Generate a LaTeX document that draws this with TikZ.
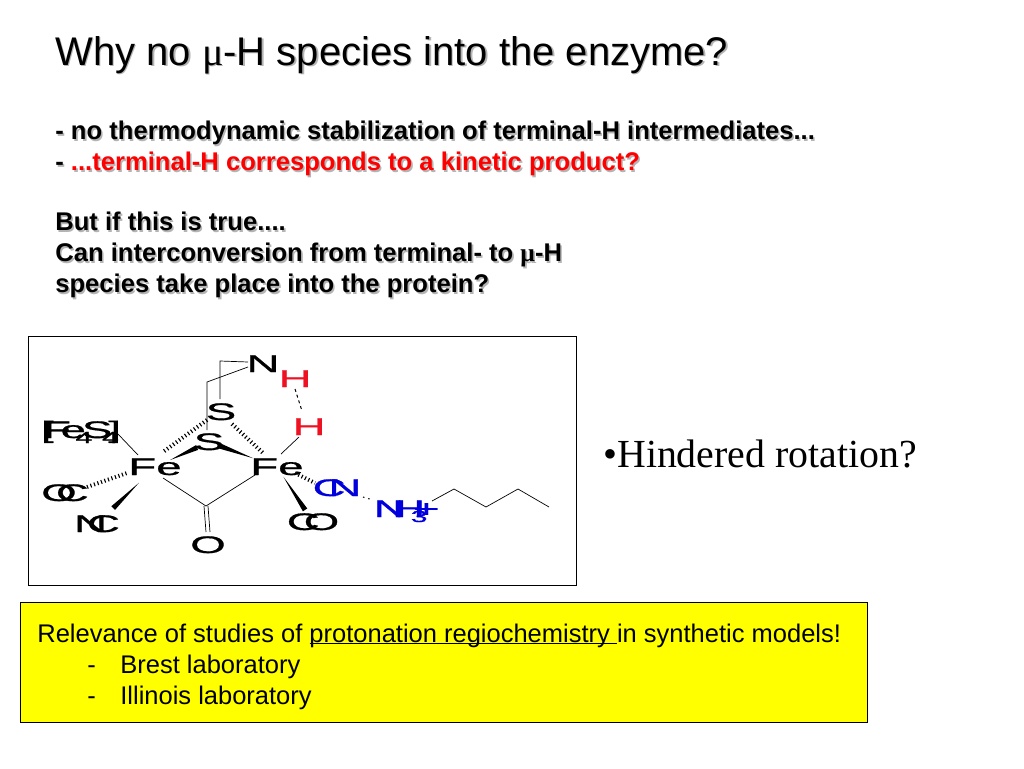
\documentclass[tikz,border=0pt]{standalone}
\usepackage{fontspec}
\setmainfont{Liberation Sans}
\newfontfamily\serifface{Liberation Serif}
\newfontfamily\atomface[FakeBold=0.7]{Liberation Sans}
\usetikzlibrary{calc}
\definecolor{shadowgray}{HTML}{B4B4B4}
\definecolor{atomred}{HTML}{EE1122}
\definecolor{atomblue}{HTML}{0000DD}
\definecolor{notebox}{HTML}{FFFF00}
\tikzset{baseline=(current bounding box.center)}
\tikzstyle{titleline} = [anchor=base west, inner sep=0, font=\fontsize{40}{40}\selectfont]
\tikzstyle{boldline} = [anchor=base west, inner sep=0, font=\fontsize{25.6}{25.6}\selectfont\bfseries]
\tikzstyle{noteline} = [anchor=base west, inner sep=0, font=\fontsize{25.5}{25.5}\selectfont]
\tikzstyle{atom} = [inner sep=0, xscale=1.9, text height=16pt, text depth=0pt, font=\atomface\fontsize{24}{24}\selectfont]
\tikzstyle{hydrogen} = [atom, color=atomred]
\tikzstyle{aminoatom} = [atom, color=atomblue]
\tikzstyle{hash} = [line width=4pt, dash pattern=on 1.1pt off 2.6pt]
% text with a soft grey copy behind it
\newcommand{\shadowed}[1]{\leavevmode\rlap{\kern1.6pt\raisebox{-1.6pt}{\color{shadowgray}#1}}#1}
\newcommand{\mug}{{\serifface μ}}
\newcommand{\subnum}[1]{\raisebox{-5pt}{\fontsize{16}{16}\selectfont #1}}
\newcommand{\wedgebond}[4]{\fill ($(#1)!#3!(#2)$) -- ($(#1)!#4!(#2)!2.6pt!90:(#2)$) -- ($(#1)!#4!(#2)!2.6pt!-90:(#2)$) -- cycle;}
\begin{document}
\begin{tikzpicture}[x=1pt, y=-1pt, line width=0.7pt]
\useasboundingbox (0,0) rectangle (1024,768);
\node[titleline] (title) at (55,65) {\shadowed{Why no \mug-H species into the enzyme?}};
\node[boldline] (line_a) at (55,139.5) {\shadowed{- no thermodynamic stabilization of terminal-H intermediates...}};
\node[boldline] (line_b) at (55,170.5) {\shadowed{- }\color{red}\shadowed{...terminal-H corresponds to a kinetic product?}};
\node[boldline] (line_c) at (55,230.5) {\shadowed{But if this is true....}};
\node[boldline] (line_d) at (55,261.5) {\shadowed{Can interconversion from terminal- to \mug-H}};
\node[boldline] (line_e) at (55,292.5) {\shadowed{species take place into the protein?}};

\node[draw, minimum width=548, minimum height=249, anchor=north west, inner sep=0] (frame) at (28,336) {};

\node[atom] (n_top) at (263,364) {N};
\node[hydrogen] (h_top) at (295,379) {H};
\node[hydrogen] (h_low) at (309,427) {H};
\node[atom] (s_top) at (221,412) {S};
\node[atom] (s_low) at (209,442) {S};
\node[atom] (fe_left) at (155,467) {Fe};
\node[atom] (fe_right) at (277,467) {Fe};
\node[atom] (cluster) at (81,430) {[\kern-5.5ptF\kern-5.5pte\kern-5.5pt\subnum{4}\kern-5.5ptS\kern-5.5pt\subnum{4}\kern-5.5pt]};
\node[atom] (oc_left) at (65,493) {O\kern-11ptC};
\node[atom] (nc_left) at (97,524) {N\kern-10.5ptC};
\node[atom] (oxygen) at (208,545) {O};
\node[atom] (co_right) at (313,522) {C\kern-8.4ptO};
\node[aminoatom] (cn_right) at (337,488) {C\kern-9ptN};
\node[aminoatom, anchor=west] (amine) at (373,509) {N\kern-7.6ptH\kern-7.6pt\subnum{3}\kern-7.6pt+};
\coordinate (carbonyl) at (206,506);
\coordinate (tail_a) at (432,501);
\coordinate (tail_b) at (454,489);
\coordinate (tail_c) at (486,507);
\coordinate (tail_d) at (518,489);
\coordinate (tail_e) at (549,507);
\coordinate (bridge_a) at (220,361);
\coordinate (bridge_b) at (207,382);

\draw ($(n_top)+(-15,-2)$) -- (bridge_a) -- ($(s_top)+(-1,-13)$);
\draw ($(n_top)+(-15,3)$) -- (bridge_b) -- ($(s_low)+(-2,-12)$);
\draw ($(cluster)+(36,3)$) -- ($(fe_left)+(-17,-12)$);
\draw ($(fe_left)+(8,11)$) -- (carbonyl);
\draw ($(fe_right)+(-22,8)$) -- (carbonyl);
\draw ($(fe_right)+(4,-13)$) -- ($(h_low)+(-10,10)$);
\draw ($(carbonyl)+(-2,0)$) -- ($(oxygen)+(-2,-13)$);
\draw ($(carbonyl)+(2,0)$) -- ($(oxygen)+(2,-13)$);
\draw (tail_a) -- (tail_b) -- (tail_c) -- (tail_d) -- (tail_e);
\draw[line width=1pt, dash pattern=on 3pt off 3pt] ($(h_top)+(0,10)$) -- ($(h_low)+(-7,-16)$);
\draw[line width=1pt, dash pattern=on 1.5pt off 4pt] ($(cn_right)+(26,9)$) -- ($(amine.west)+(0,-9)$);
\draw[hash] ($(s_top)+(-14,8)$) -- ($(fe_left)+(8,-15)$);
\draw[hash] ($(s_top)+(11,12)$) -- ($(fe_right)+(-14,-14)$);
\draw[hash] ($(oc_left)+(22,-6)$) -- ($(fe_left)+(-28,6)$);
\draw[hash] ($(fe_right)+(18,6)$) -- ($(cn_right)+(-22,-5)$);
\wedgebond{fe_left}{s_low}{0.28}{0.78}
\wedgebond{fe_right}{s_low}{0.35}{0.83}
\wedgebond{fe_left}{nc_left}{0.28}{0.72}
\wedgebond{fe_right}{co_right}{0.18}{0.78}

\node[anchor=base west, inner sep=0, font=\serifface\fontsize{39.8}{39.8}\selectfont] (rotation) at (603,467) {•Hindered rotation?};

\node[draw, fill=notebox, minimum width=847, minimum height=120, anchor=north west, inner sep=0] (note) at (20,602) {};
\node[noteline] (note_a) at (37,642) {Relevance of studies of $\underline{\smash{\hbox{protonation regiochemistry }}}$in synthetic models!};
\node[noteline] (note_b) at (87,673) {-};
\node[noteline] (note_c) at (120,673) {Brest laboratory};
\node[noteline] (note_d) at (87,704) {-};
\node[noteline] (note_e) at (120,704) {Illinois laboratory};
\end{tikzpicture}
\end{document}
